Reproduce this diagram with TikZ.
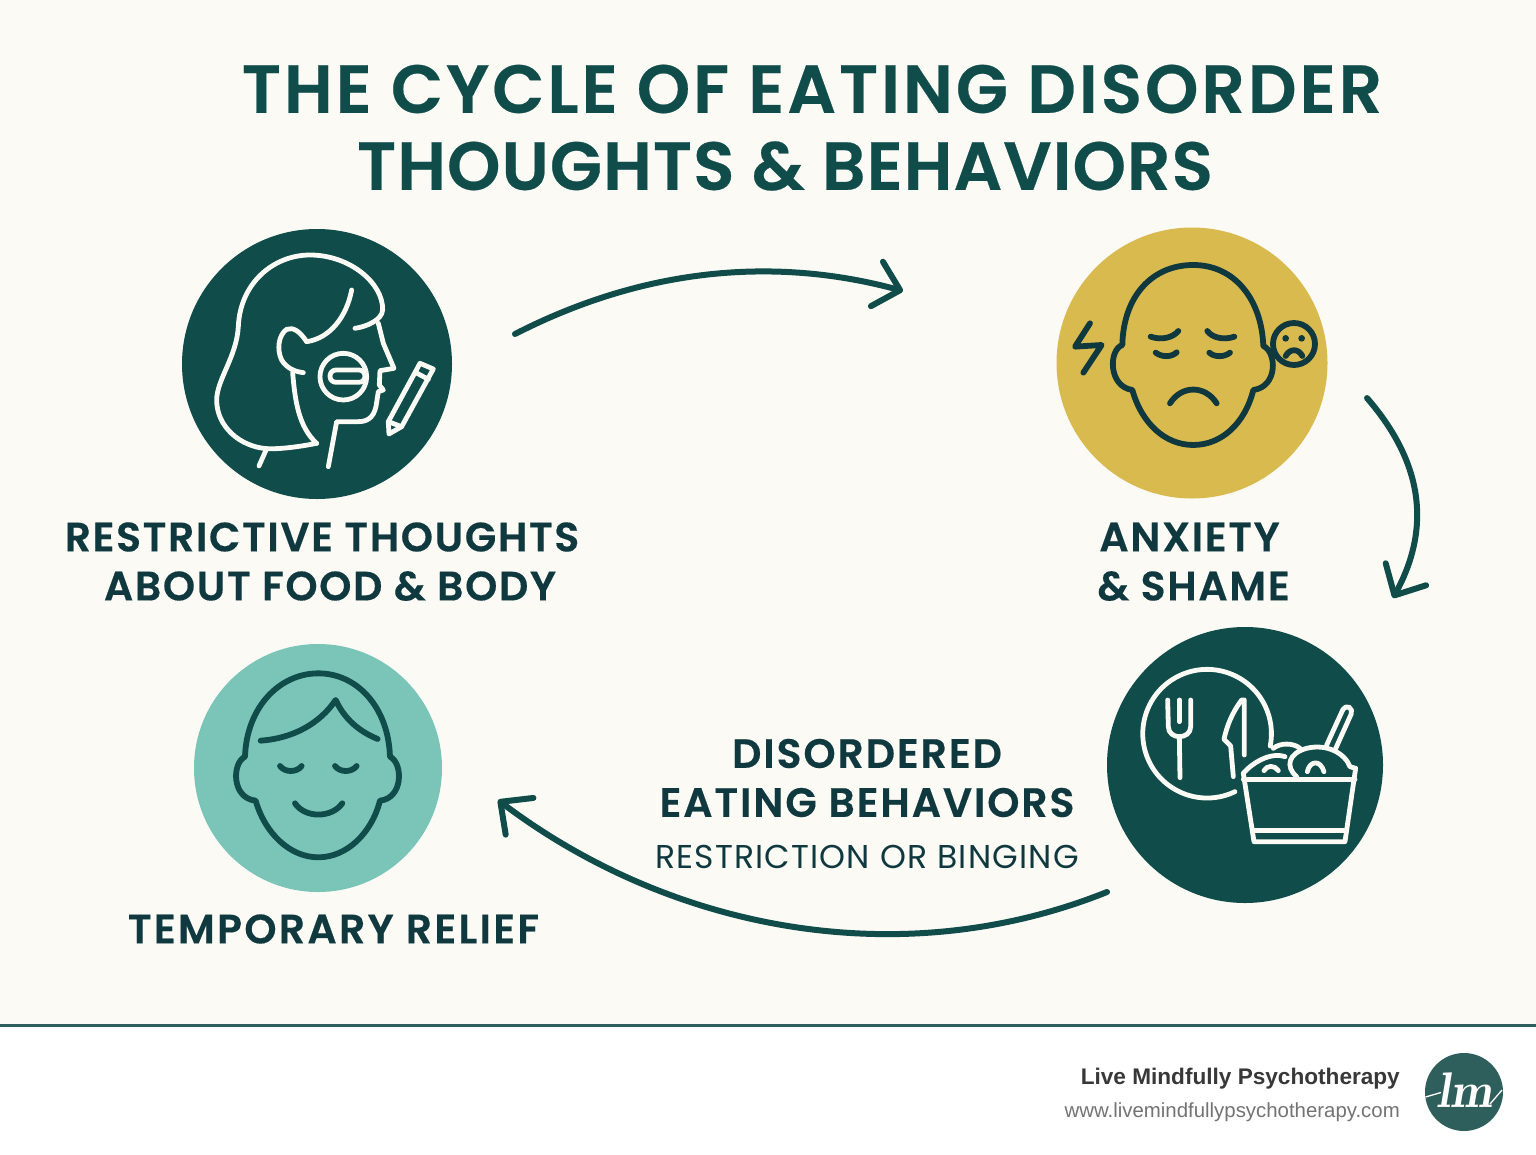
\documentclass[tikz,border=0pt]{standalone}
\usepackage{fontspec}
\usetikzlibrary{arrows.meta,calc}
\setmainfont{Poppins}
\newfontfamily\headfont[FakeBold=0.35]{Poppins SemiBold}
\newfontfamily\footerfont{Liberation Sans}
\definecolor{deepgreen}{HTML}{0F4C4A}
\definecolor{inkgreen}{HTML}{10393F}
\definecolor{goldfill}{HTML}{D9BA4E}
\definecolor{tealfill}{HTML}{7BC4B8}
\definecolor{paper}{HTML}{FBFAF5}
\definecolor{logogreen}{HTML}{2F5F5C}
\tikzset{
  disc/.style={circle,inner sep=0pt,minimum size=#1},
  titletext/.style={text=deepgreen,font=\headfont\fontsize{68}{68}\selectfont\addfontfeature{LetterSpace=#1},inner sep=0pt},
  labeltext/.style={text=inkgreen,font=\headfont\fontsize{41}{49}\selectfont\addfontfeature{LetterSpace=#1},inner sep=0pt,align=center},
  subtext/.style={text=inkgreen,font=\fontsize{33}{33}\selectfont\addfontfeature{LetterSpace=3.7},inner sep=0pt},
  cycleline/.style={draw=deepgreen,line width=6pt,line cap=round,line join=round,-{Straight Barb[length=24pt,width=46pt,line cap=round,line join=round]}},
  iconwhite/.style={draw=paper,line width=4.8pt,line cap=round,line join=round},
  icondark/.style={draw=inkgreen,line width=5.8pt,line cap=round,line join=round},
  iconteal/.style={draw=deepgreen,line width=5.8pt,line cap=round,line join=round},
}
\begin{document}
\begin{tikzpicture}[x=1pt,y=1pt,yscale=-1,xscale=1]
\useasboundingbox (0,0) rectangle (1536,1154);

%Background
\fill [paper] (0,0) rectangle (1536,1026);
\fill [white] (0,1026) rectangle (1536,1154);
\draw [logogreen,line width=2.5pt] (0,1025.5) -- (1536,1025.5);

% Text Node
\draw (812,89) node (titleone) [titletext=4.3] {THE CYCLE OF EATING DISORDER};
% Text Node
\draw (785,166) node (titletwo) [titletext=1.5] {THOUGHTS \& BEHAVIORS};

%Shape: Circle
\draw (317,364) node (thoughts) [disc=270pt,fill=deepgreen] {};
\draw (1192,363) node (anxiety) [disc=271pt,fill=goldfill] {};
\draw (1245,765) node (eating) [disc=276pt,fill=deepgreen] {};
\draw (318,768) node (relief) [disc=248pt,fill=tealfill] {};

% Text Node
\draw (322,537) node (thoughtsone) [labeltext=4] {RESTRICTIVE THOUGHTS};
\draw (330,586) node (thoughtstwo) [labeltext=4] {ABOUT FOOD \& BODY};
\draw (1189.5,537) node (anxietyone) [labeltext=4] {ANXIETY};
\draw (1193.5,586) node (anxietytwo) [labeltext=4] {\& SHAME};
\draw (867,778) node (eatinglabel) [labeltext=4.6] {DISORDERED\\EATING BEHAVIORS};
\draw (867,857) node (eatingsub) [subtext] {RESTRICTION OR BINGING};
\draw (333.5,929) node (relieflabel) [labeltext=5.6] {TEMPORARY RELIEF};

%Straight Lines
\draw [cycleline] ($(thoughts)+(198,-30)$) .. controls (640,270) and (770,255) .. ($(anxiety)+(-289,-72)$);
\draw [cycleline] ($(anxiety)+(175,35)$) .. controls (1425,465) and (1430,530) .. ($(eating)+(148,-167)$);
\draw [cycleline] ($(eating)+(-138,127)$) .. controls (900,975) and (670,930) .. ($(relief)+(180,32)$);

%Icon: restrictive thoughts
\begin{scope}[shift={(170,220)},scale=0.3333]
\draw [iconwhite] (440,670) .. controls (390,680) and (330,688) .. (290,686) .. controls (210,680) and (140,620) .. (140,540) .. controls (140,480) and (200,410) .. (205,320) .. controls (210,190) and (310,105) .. (420,105) .. controls (540,105) and (640,190) .. (638,270) .. controls (636,300) and (590,320) .. (555,325);
\draw [iconwhite] (625,310) -- (640,370) -- (672,445) -- (630,452) -- (628,495) -- (640,510) -- (625,515) -- (618,560) .. controls (610,595) and (590,605) .. (565,605) -- (500,605) -- (475,740);
\draw [iconwhite] (545,210) .. controls (530,290) and (480,355) .. (410,365);
\draw [iconwhite] (410,365) .. controls (390,335) and (370,320) .. (350,328) .. controls (325,345) and (320,390) .. (335,420) .. controls (350,445) and (375,455) .. (400,458);
\draw [iconwhite] (368,458) .. controls (375,540) and (385,620) .. (440,670);
\draw [iconwhite] (290,686) -- (267,738);
\draw [iconwhite] (520,470) circle (70);
\draw [iconwhite,rounded corners=6pt] (480,450) -- (585,450) -- (585,487) -- (480,487) -- cycle;
\draw [iconwhite] (657,642) -- (655,605) -- (750,430) -- (790,447) -- (695,620) -- cycle;
\draw [iconwhite] (738,458) -- (775,478);
\draw [iconwhite] (655,605) -- (695,620);
\end{scope}

%Icon: anxiety
\begin{scope}[shift={(1045,220)},scale=0.3333]
\draw [icondark] (232,375) .. controls (235,230) and (320,135) .. (445,135) .. controls (570,135) and (650,240) .. (655,378) .. controls (695,395) and (700,500) .. (625,510) .. controls (600,610) and (530,675) .. (445,675) .. controls (360,675) and (290,610) .. (262,510) .. controls (190,500) and (190,390) .. (232,375) -- cycle;
\draw [icondark] (317,350) .. controls (350,362) and (385,352) .. (400,333);
\draw [icondark] (332,398) .. controls (350,412) and (380,412) .. (395,397);
\draw [icondark] (568,350) .. controls (535,362) and (500,352) .. (487,333);
\draw [icondark] (555,398) .. controls (538,412) and (508,412) .. (493,398);
\draw [icondark] (375,550) .. controls (410,495) and (480,495) .. (515,550);
\draw [icondark] (135,310) -- (90,380) -- (170,375) -- (115,458);
\draw [icondark] (747,372) circle (63);
\fill [inkgreen] (722,355) circle (10) (770,355) circle (10);
\draw [icondark] (722,408) .. controls (735,385) and (760,385) .. (772,408);
\end{scope}

%Icon: eating
\begin{scope}[shift={(1100,620)},scale=0.3333]
\draw [iconwhite] (405,515) arc (64.3:371:193);
\draw [iconwhite] (203,240) -- (205,320) .. controls (205,340) and (222,350) .. (238,350) .. controls (255,350) and (272,340) .. (272,320) -- (272,240);
\draw [iconwhite] (238,240) -- (238,305);
\draw [iconwhite] (238,350) -- (240,473);
\draw [iconwhite] (433,405) -- (433,240) -- (425,240) .. controls (395,280) and (380,320) .. (372,358) -- (392,378) -- (400,470);
\draw [iconwhite] (430,460) -- (462,665) -- (735,665) -- (767,445);
\draw [iconwhite] (430,478) -- (765,478);
\draw [iconwhite] (462,632) -- (740,632);
\draw [iconwhite] (430,460) .. controls (455,430) and (510,395) .. (555,410);
\draw [iconwhite] (520,385) .. controls (540,368) and (580,368) .. (600,385);
\draw [iconwhite] (590,470) .. controls (555,440) and (565,400) .. (620,385) .. controls (680,370) and (735,400) .. (750,440) -- (767,445);
\draw [iconwhite] (492,452) .. controls (500,435) and (525,435) .. (535,452);
\draw [iconwhite] (622,455) .. controls (630,420) and (662,420) .. (672,455);
\draw [iconwhite,rounded corners=5pt] (680,375) -- (735,255) -- (760,268) -- (705,390);
\end{scope}

%Icon: relief
\begin{scope}[shift={(190,640)},scale=0.3333]
\draw [iconteal] (165,350) .. controls (170,200) and (270,100) .. (385,100) .. controls (500,100) and (595,200) .. (600,350) .. controls (640,370) and (640,475) .. (570,482) .. controls (545,580) and (470,652) .. (385,652) .. controls (300,652) and (225,580) .. (197,482) .. controls (125,475) and (125,370) .. (165,350) -- cycle;
\draw [iconteal] (212,302) .. controls (310,295) and (390,250) .. (437,180) .. controls (465,240) and (510,275) .. (563,297);
\draw [iconteal] (270,378) .. controls (285,398) and (320,398) .. (335,378);
\draw [iconteal] (435,378) .. controls (450,398) and (485,398) .. (500,378);
\draw [iconteal] (315,490) .. controls (345,535) and (425,535) .. (457,490);
\end{scope}

% Text Node
\draw (1400,1079) node (practice) [anchor=east,inner sep=0pt,text=black!78,font=\footerfont\fontsize{22.6}{24}\selectfont\bfseries] {Live Mindfully Psychotherapy};
\draw (1400,1112) node (website) [anchor=east,inner sep=0pt,text=black!55,font=\footerfont\fontsize{20.4}{21}\selectfont] {www.livemindfullypsychotherapy.com};
%Logo
\draw (1464,1092) node (logo) [disc=78pt,fill=logogreen] {};
\draw (1464,1090) node (logoletters) [text=white,inner sep=0pt,font=\fontfamily{lmr}\fontsize{50}{50}\selectfont\bfseries\itshape] {lm};
\draw [white,line width=1.3pt] (1425.5,1097) -- (1441,1092.5);
\draw [white,line width=1.3pt] (1490,1104) -- (1502,1090);
\end{tikzpicture}
\end{document}
